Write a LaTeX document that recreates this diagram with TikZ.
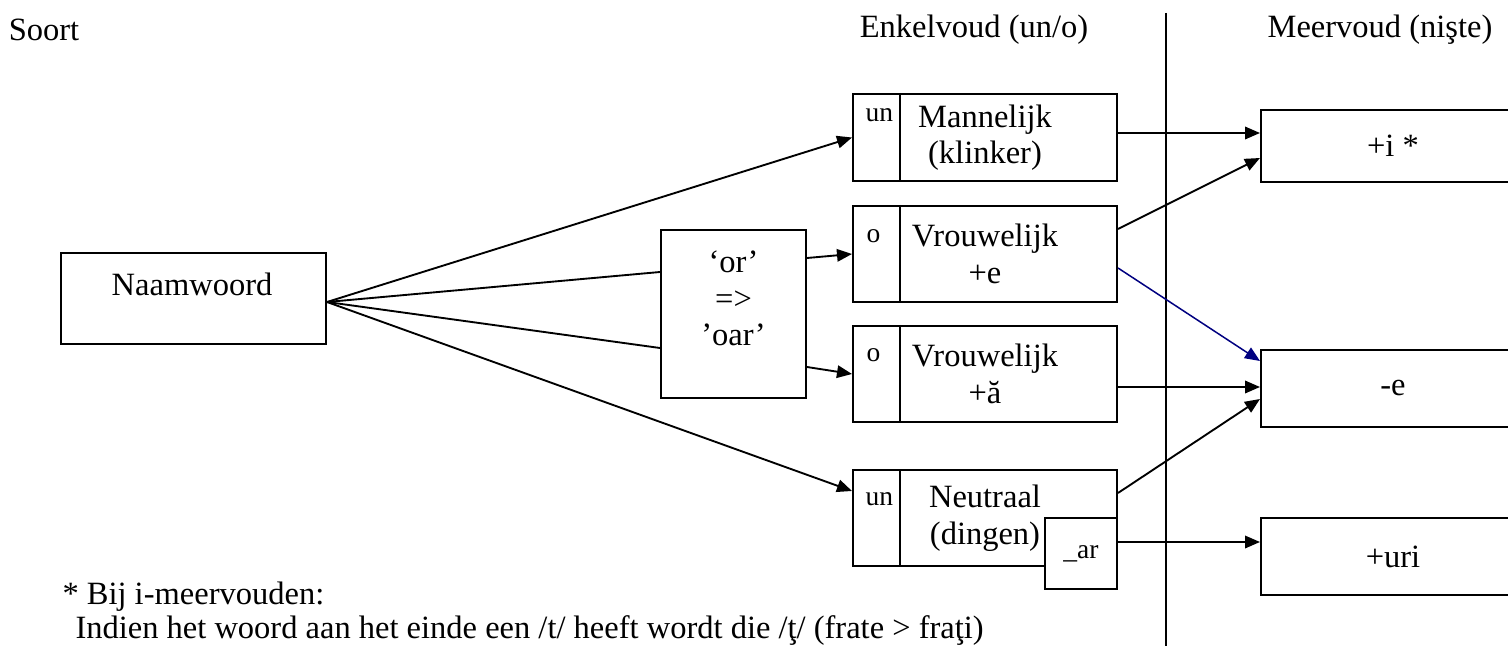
\documentclass[tikz,border=0pt]{standalone}
\usepackage{fontspec}
\setmainfont{Liberation Serif}
\usetikzlibrary{arrows.meta}
\definecolor{linkblue}{RGB}{0,0,128}

\begin{document}
\begin{tikzpicture}[x=0.4pt, y=-0.4pt,
  font=\fontsize{13}{14.6}\selectfont,
  box/.style={draw, line width=0.8pt, inner sep=0pt, fill=white, align=center},
  wordbox/.style={box, minimum width=105.6pt, minimum height=38.4pt},
  endbox/.style={box, minimum width=105.6pt, minimum height=30.8pt},
  genus/.style={anchor=west, inner sep=0pt, font=\fontsize{11}{12}\selectfont},
  note/.style={anchor=west, inner sep=0pt},
  link/.style={line width=0.75pt, -{Triangle[length=6pt,width=5pt]}},
  feed/.style={line width=0.75pt}]
  \useasboundingbox (0,0) rectangle (1508,646);
  \clip (0,0) rectangle (1508,646);

  % column headings
  \node (soort) at (44,30) {Soort};
  \node (enkel) at (974,30) {Enkelvoud (un/o)};
  \node (meer) at (1380,30) {Meervoud (nişte)};
  \coordinate (sepTop) at (1166,13);
  \coordinate (sepBot) at (1166,646);
  \draw[line width=0.75pt] (sepTop) -- (sepBot);

  % source and rewrite boxes
  \node[box, minimum width=106pt, minimum height=36.4pt] (naam) at (193.5,298.5) {};
  \node (naamtxt) at (192,284) {Naamwoord};
  \node[box, minimum width=58pt, minimum height=67.2pt] (conv) at (733.5,314) {};
  \node[align=center] (convtxt) at (733.5,298.5) {‘or’\\=>\\’oar’};

  % singular boxes
  \node[wordbox, minimum height=34.8pt] (mann) at (985,137.5) {Mannelijk\\(klinker)};
  \node[wordbox] (vre) at (985,254) {Vrouwelijk\\+e};
  \node[wordbox] (vra) at (985,374) {Vrouwelijk\\+ă};
  \node[wordbox] (neut) at (985,518) {Neutraal\\(dingen)};
  \foreach \b in {mann,vre,vra,neut}
    \draw[line width=0.8pt] ([xshift=19.2pt]\b.north west) -- ([xshift=19.2pt]\b.south west);
  \node[genus] (mannG) at (865,115) {un};
  \node[genus] (vreG) at (866,236) {o};
  \node[genus] (vraG) at (866,355) {o};
  \node[genus] (neutG) at (865,499) {un};
  \node[box, minimum width=28.8pt, minimum height=28.4pt, font=\fontsize{11}{12}\selectfont] (ar) at (1081,553.5) {\_ar};

  % plural boxes
  \node[endbox, minimum height=28.8pt] (pli) at (1393,146) {+i *};
  \node[endbox] (pe) at (1393,388.5) {-e};
  \node[endbox] (puri) at (1393,556.5) {+uri};

  % connectors
  \coordinate (fan) at ([yshift=-1.4pt]naam.east);
  \draw[link] (fan) -- (mann.west);
  \draw[feed] (fan) -- ([yshift=16.8pt]conv.west);
  \draw[feed] (fan) -- ([yshift=-13.6pt]conv.west);
  \draw[link] (fan) -- ([yshift=10.8pt]neut.west);
  \draw[link] ([yshift=22.4pt]conv.east) -- (vre.west);
  \draw[link] ([yshift=-21.2pt]conv.east) -- (vra.west);
  \draw[link] ([yshift=1.8pt]mann.east) -- ([yshift=5.2pt]pli.west);
  \draw[link] ([yshift=10pt]vre.east) -- ([yshift=-4.8pt]pli.west);
  \draw[link, linkblue, line width=0.6pt] ([yshift=-5.6pt]vre.east) -- ([yshift=11pt]pe.west);
  \draw[link] ([yshift=-5.2pt]vra.east) -- ([yshift=0.6pt]pe.west);
  \draw[link] ([yshift=10pt]neut.east) -- ([yshift=-4.2pt]pe.west);
  \draw[link] ([yshift=4.6pt]ar.east) -- ([yshift=5.8pt]puri.west);

  % footnote
  \node[note] (note1) at (62,597) {* Bij i-meervouden:};
  \node[note] (note2) at (75,631) {Indien het woord aan het einde een /t/ heeft wordt die /ţ/ (frate > fraţi)};
\end{tikzpicture}
\end{document}
